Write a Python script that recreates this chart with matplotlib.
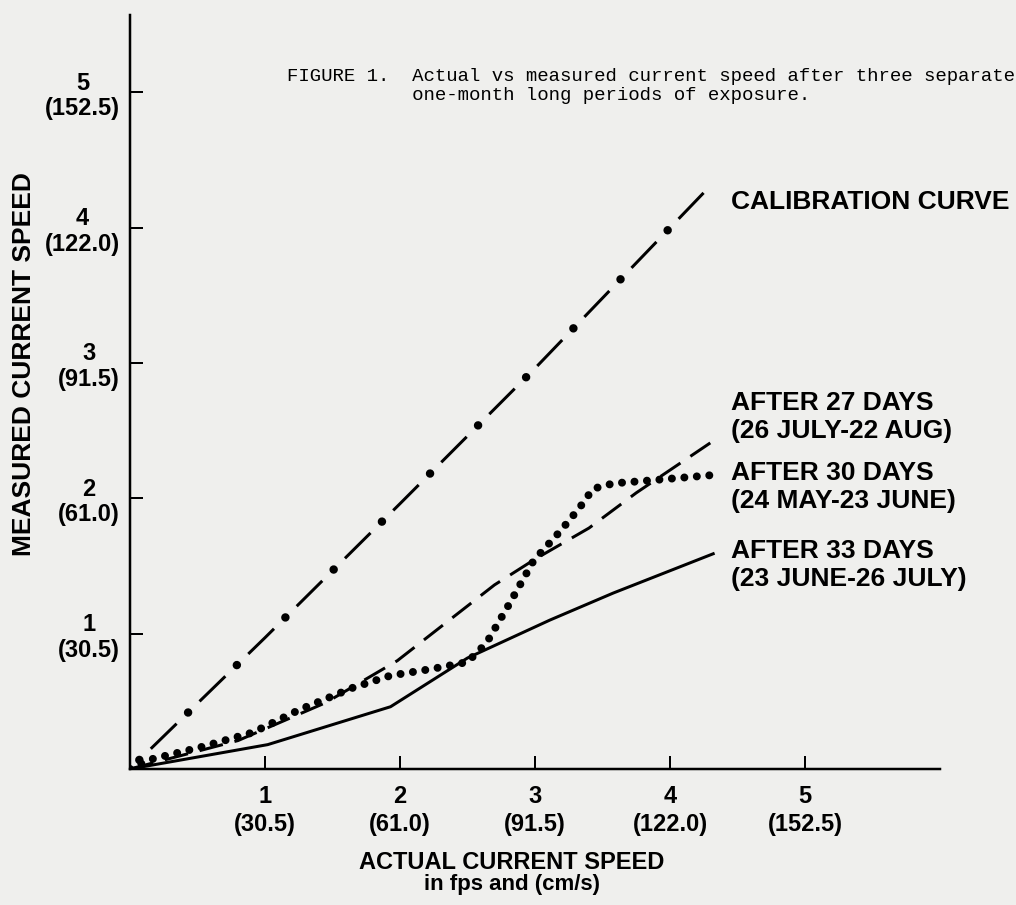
import numpy as np
import matplotlib
matplotlib.use('Agg')
import matplotlib.pyplot as plt

# =============================================================================
# DATA (fps)
# -----------------------------------------------------------------------------
calib_x = [0.0, 1.0, 2.0, 3.0, 4.32]
calib_y = [0.0, 0.97, 1.96, 2.96, 4.33]

days27_x = [0.0, 0.80, 1.45, 1.98, 2.70, 3.00, 3.40, 3.75, 4.30]
days27_y = [0.0, 0.21, 0.49, 0.80, 1.36, 1.55, 1.78, 2.04, 2.41]

days30_x = [0.0, 0.15, 0.52, 0.91, 1.26, 1.65, 1.93, 2.24, 2.50, 2.64,
            2.81, 2.99, 3.19, 3.33, 3.43, 3.58, 3.83, 4.30]
days30_y = [0.0, 0.07, 0.16, 0.27, 0.44, 0.60, 0.69, 0.74, 0.79, 0.93,
            1.22, 1.54, 1.76, 1.93, 2.07, 2.11, 2.13, 2.17]

days33_x = [0.0, 1.02, 1.93, 2.50, 3.11, 3.58, 4.32]
days33_y = [0.0, 0.18, 0.46, 0.82, 1.10, 1.30, 1.59]

tick_fps = [1, 2, 3, 4, 5]
tick_cms = ['30.5', '61.0', '91.5', '122.0', '152.5']

# =============================================================================
# PLOT
# -----------------------------------------------------------------------------
plt.rcParams['font.family'] = ['Liberation Sans', 'DejaVu Sans']
plt.rcParams['font.weight'] = 'bold'
plt.rcParams['lines.scale_dashes'] = False

W, H = 1016, 905
px = 0.72  # pixel -> point at dpi 100

fig = plt.figure(figsize=(W / 100, H / 100), dpi=100, facecolor='#efefed')
ax = fig.add_axes([130 / W, 1 - 769 / H, 810 / W, 754 / H])
ax.set_facecolor('none')

# calibration curve: long dash + fat dot
ax.plot(calib_x, calib_y, color='k', lw=3 * px,
        ls=(39 * px, (36 * px, 32 * px)), dash_capstyle='butt')
ax.plot(calib_x, calib_y, color='k', lw=8.5 * px, ls=(55 * px, (0.01, 68 * px)),
        dash_capstyle='round')

# after 27 days: dashed
ax.plot(days27_x, days27_y, color='k', lw=3 * px, ls=(0, (24 * px, 12 * px)))

# after 30 days: dotted
ax.plot(days30_x, days30_y, color='k', lw=8 * px, ls=(0, (0.01, 12.5 * px)),
        dash_capstyle='round')

# after 33 days: solid
ax.plot(days33_x, days33_y, color='k', lw=3 * px)

ax.set_xlim(0, 6.0)
ax.set_ylim(0, 5.57)
for s in ['top', 'right']:
    ax.spines[s].set_visible(False)
for s in ['left', 'bottom']:
    ax.spines[s].set_linewidth(2.5 * px)

labels = [f'{v}\n({c})' for v, c in zip(tick_fps, tick_cms)]
ax.set_xticks(tick_fps)
ax.set_xticklabels(labels, fontsize=17, linespacing=1.25)
ax.set_yticks(tick_fps)
ax.set_yticklabels(labels, fontsize=17, linespacing=1.15)
for lab in ax.get_yticklabels():
    lab.set_multialignment('center')
ax.tick_params(direction='in', length=13 * px, width=2 * px)
ax.tick_params(axis='x', pad=16 * px)
ax.tick_params(axis='y', pad=10 * px)

# axis titles
fig.text(512 / W, 1 - 862 / H, 'ACTUAL CURRENT SPEED', ha='center', va='center',
         fontsize=17)
fig.text(512 / W, 1 - 884 / H, 'in fps and (cm/s)', ha='center', va='center',
         fontsize=16)
fig.text(24 / W, 1 - 364 / H, 'MEASURED CURRENT SPEED', ha='center', va='center',
         rotation=90, fontsize=19)

# figure caption (typewriter)
fig.text(287 / W, 1 - 86 / H,
         'FIGURE 1.  Actual vs measured current speed after three separate\n'
         '           one-month long periods of exposure.',
         ha='left', va='center', fontsize=13.7, family='Liberation Mono',
         weight='normal', linespacing=1.2)

# curve labels
fig.text(731 / W, 1 - 202 / H, 'CALIBRATION CURVE', ha='left', va='center',
         fontsize=19)
fig.text(731 / W, 1 - 417 / H, 'AFTER 27 DAYS\n(26 JULY-22 AUG)', ha='left',
         va='center', fontsize=19, linespacing=1.2)
fig.text(731 / W, 1 - 487 / H, 'AFTER 30 DAYS\n(24 MAY-23 JUNE)', ha='left',
         va='center', fontsize=19, linespacing=1.2)
fig.text(731 / W, 1 - 565 / H, 'AFTER 33 DAYS\n(23 JUNE-26 JULY)', ha='left',
         va='center', fontsize=19, linespacing=1.2)

plt.savefig('out.png', dpi=100, facecolor=fig.get_facecolor())
